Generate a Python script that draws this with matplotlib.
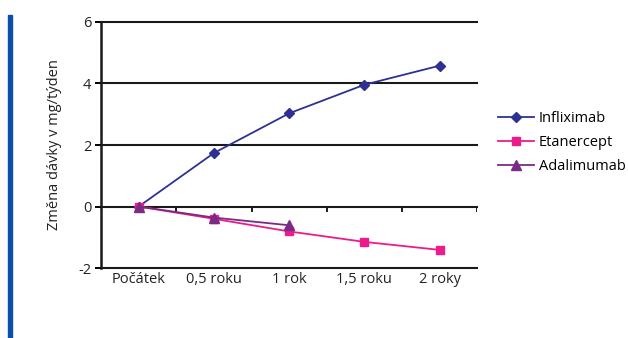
import matplotlib.pyplot as plt
from matplotlib.patches import Rectangle
import matplotlib.transforms as mtransforms

plt.rcParams['font.family'] = ['Open Sans', 'DejaVu Sans']

categories = ['Počátek', '0,5 roku', '1 rok', '1,5 roku', '2 roky']
infliximab = [0, 1.74, 3.03, 3.96, 4.58]
etanercept = [0, -0.40, -0.81, -1.15, -1.41]
adalimumab = [0, -0.36, -0.61]
y_ticks = [-2, 0, 2, 4, 6]

fig = plt.figure(figsize=(6.28, 3.38), dpi=100)
ax = fig.add_axes([0.161, 0.207, 0.599, 0.728])

# blue side bar
fig.patches.append(Rectangle((8 / 628, 0), 4 / 628, 323 / 338,
                             transform=fig.transFigure, color='#0d4ea6', zorder=0))

for y in y_ticks:
    ax.axhline(y, color='#1a1a1a', lw=1.5, zorder=1, clip_on=False)

x = range(len(categories))
ax.plot(x, infliximab, '-D', color='#2e3192', lw=1.3, ms=5.5, label='Infliximab', zorder=3)
ax.plot(x, etanercept, '-s', color='#ec1c8c', lw=1.3, ms=5.5, label='Etanercept', zorder=3)
ax.plot(range(len(adalimumab)), adalimumab, '-^', color='#7b2b83', lw=1.3, ms=6.5,
        label='Adalimumab', zorder=4)

# category separators on the zero line
trans = mtransforms.blended_transform_factory(ax.transData, ax.transData)
for b in [i + 0.5 for i in range(len(categories))]:
    ax.plot([b, b], [0, -0.13], color='#1a1a1a', lw=1.4, transform=trans, zorder=1)

ax.set_xlim(-0.5, len(categories) - 0.5)
ax.set_ylim(-2, 6)
ax.set_xticks(list(x))
ax.set_xticklabels(categories, fontsize=10.5, color='#222222')
ax.set_yticks(y_ticks)
ax.set_yticklabels([str(v) for v in y_ticks], fontsize=10.5, color='#222222')
ax.tick_params(axis='x', length=0, pad=3)
ax.tick_params(axis='y', length=4, width=1.4, pad=3)
for s in ['top', 'right', 'bottom']:
    ax.spines[s].set_visible(False)
ax.spines['left'].set_linewidth(1.8)
ax.spines['left'].set_color('#1a1a1a')
ax.set_ylabel('Změna dávky v mg/týden', fontsize=10.5, color='#222222', labelpad=12)

ax.legend(loc='center left', bbox_to_anchor=(1.02, 0.51), frameon=False, fontsize=10.5,
          handlelength=2.5, labelspacing=0.6, handletextpad=0.3)

fig.savefig('out.png', dpi=100)
